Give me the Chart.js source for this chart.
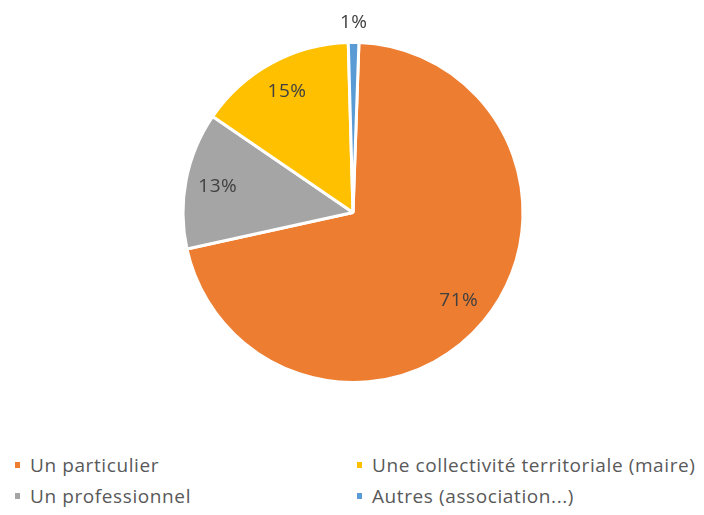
<!DOCTYPE html>
<html>
<head>
<meta charset="utf-8">
<title>Répartition des demandeurs</title>
<script src="https://cdn.jsdelivr.net/npm/chart.js@4"></script>
<style>
  html, body { margin: 0; padding: 0; background: #fff; }
  body { width: 704px; height: 515px; position: relative; overflow: hidden; font-family: "Open Sans", Lato, sans-serif; }
  #chartBox { position: absolute; left: 0; top: 0; width: 704px; height: 430px; }
  #legend {
    position: absolute; left: 15px; top: 449px;
    display: grid; grid-template-columns: 342px 342px; grid-template-rows: 31px 31px;
    grid-auto-flow: column; color: #595959; font-size: 19px; letter-spacing: 0.6px;
  }
  .item { display: flex; align-items: center; white-space: nowrap; }
  .swatch { width: 5px; height: 6px; margin-right: 10px; }
</style>
</head>
<body>
<div id="chartBox"><canvas id="pie"></canvas></div>
<div id="legend"></div>
<script>
// clockwise from the top
const categories = ['Un particulier', 'Un professionnel', 'Une collectivité territoriale (maire)', 'Autres (association...)'];
const shares = [71, 13, 15, 1];
const sliceColors = ['#ED7D31', '#A5A5A5', '#FFC000', '#5B9BD5'];

// percentage labels: inside the slice, or above the pie for tiny ones
const pctLabels = {
    id: 'pctLabels',
    afterDatasetsDraw(chart) {
        const ctx = chart.ctx;
        const meta = chart.getDatasetMeta(0);
        ctx.save();
        ctx.font = '19px "Open Sans", Lato, sans-serif';
        ctx.letterSpacing = '0.5px';
        ctx.fillStyle = '#404040';
        ctx.textAlign = 'center';
        ctx.textBaseline = 'middle';
        meta.data.forEach(function (arc, i) {
            const p = arc.getProps(['x', 'y', 'startAngle', 'endAngle', 'outerRadius']);
            const mid = (p.startAngle + p.endAngle) / 2;
            const r = shares[i] < 3 ? p.outerRadius + 20 : p.outerRadius * 0.81;
            ctx.fillText(shares[i] + '%', p.x + Math.cos(mid) * r, p.y + Math.sin(mid) * r);
        });
        ctx.restore();
    }
};

new Chart(document.getElementById('pie'), {
    type: 'pie',
    data: {
        labels: categories,
        datasets: [{
            data: shares,
            backgroundColor: sliceColors,
            borderColor: '#ffffff',
            borderWidth: 3
        }]
    },
    options: {
        responsive: true,
        maintainAspectRatio: false,
        animation: false,
        rotation: 2,
        layout: { padding: { top: 41, bottom: 46, left: 2, right: 0 } },
        plugins: {
            legend: { display: false },
            tooltip: { enabled: false }
        }
    },
    plugins: [pctLabels]
});

// legend in two columns, filled top to bottom
const legend = document.getElementById('legend');
categories.forEach(function (name, i) {
    const item = document.createElement('div');
    item.className = 'item';
    const sw = document.createElement('span');
    sw.className = 'swatch';
    sw.style.background = sliceColors[i];
    item.appendChild(sw);
    item.appendChild(document.createTextNode(name));
    legend.appendChild(item);
});
</script>
</body>
</html>
